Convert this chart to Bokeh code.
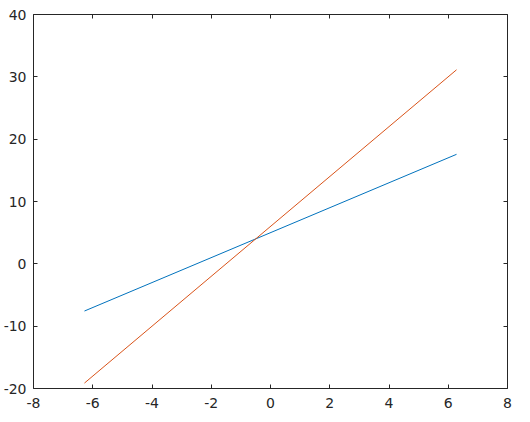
from bokeh.plotting import figure
from bokeh.models import Range1d, LinearAxis, FixedTicker
from bokeh.embed import file_html
from bokeh.resources import INLINE

# data
x_vals = [-6.28, 6.28]
blue_y = [-7.57, 17.57]
orange_y = [-19.13, 31.13]
x_ticks = [-8, -6, -4, -2, 0, 2, 4, 6, 8]
y_ticks = [-20, -10, 0, 10, 20, 30, 40]

AX = "#262626"
FONT = "DejaVu Sans"

p = figure(output_backend="svg", toolbar_location=None,
           frame_width=474, frame_height=374,
           x_range=Range1d(-8, 8), y_range=Range1d(-20, 40),
           min_border_left=30, min_border_right=15,
           min_border_top=14, min_border_bottom=28,
           background_fill_color="white", border_fill_color="white")
p.xgrid.visible = False
p.ygrid.visible = False
p.outline_line_color = None

def style_axis(ax, ticks, labels=True):
    ax.ticker = FixedTicker(ticks=ticks)
    ax.axis_line_color = AX
    ax.axis_line_width = 1
    ax.major_tick_line_color = AX
    ax.major_tick_in = 4
    ax.major_tick_out = 0
    ax.minor_tick_line_color = None
    ax.major_label_text_font = FONT
    ax.major_label_text_font_size = "14px"
    ax.major_label_overrides = {t: str(t) for t in ticks}
    if labels:
        ax.major_label_text_color = AX
    else:
        ax.major_label_text_color = None
        ax.major_label_standoff = -30

style_axis(p.xaxis[0], x_ticks)
p.xaxis[0].major_label_standoff = 9
style_axis(p.yaxis[0], y_ticks)
p.yaxis[0].major_label_standoff = 7

top = LinearAxis()
style_axis(top, x_ticks, labels=False)
p.add_layout(top, "above")
right = LinearAxis()
style_axis(right, y_ticks, labels=False)
p.add_layout(right, "right")

p.line(x_vals, blue_y, line_color="#0072BD", line_width=1)
p.line(x_vals, orange_y, line_color="#D95319", line_width=1)

open("out.html", "w").write(file_html(p, INLINE))
